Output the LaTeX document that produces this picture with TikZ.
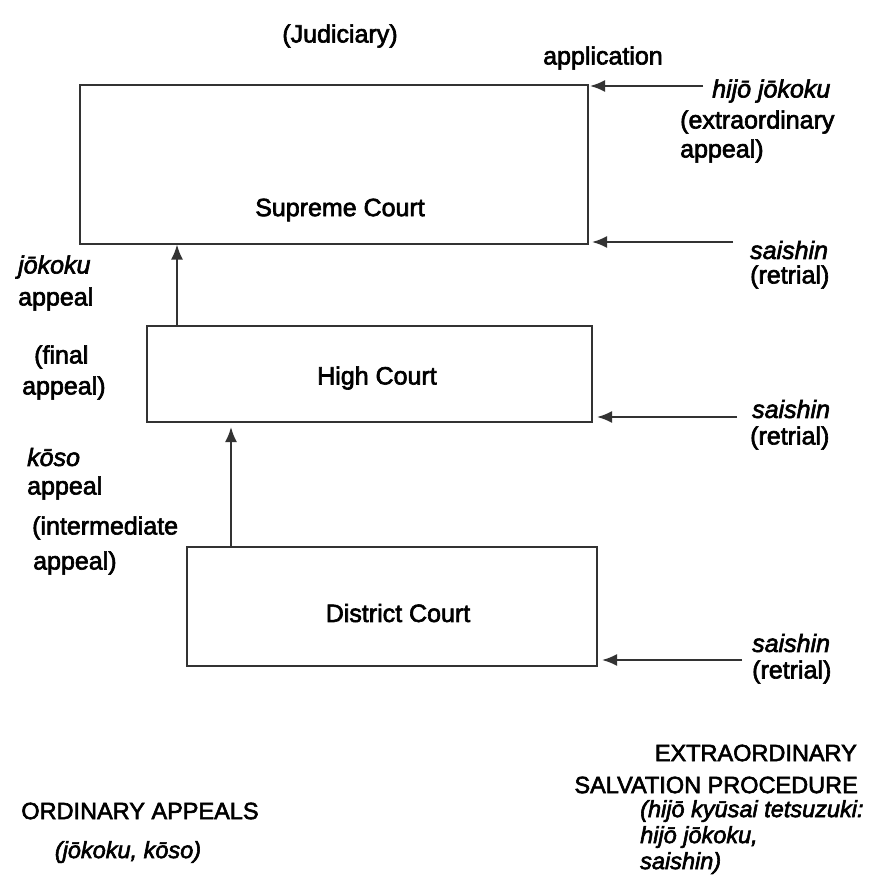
\documentclass[tikz,border=0pt]{standalone}
\usepackage{fontspec}
\setmainfont{Liberation Sans}[FakeBold=2.5,ItalicFeatures={FakeBold=2.5}]
\usetikzlibrary{arrows.meta}
\begin{document}
\begin{tikzpicture}[x=1pt,y=-1pt,
  box/.style={draw=black!80,line width=2pt,inner sep=0pt},
  lbl/.style={inner sep=0pt,font=\fontsize{25}{28}\selectfont},
  captxt/.style={inner sep=0pt,font=\fontsize{23.5}{28}\selectfont},
  arr/.style={draw=black!80,line width=2pt,-{Latex[length=15pt,width=12pt]}}]
\useasboundingbox[fill=white] (0,0) rectangle (893,888);
% boxes
\node[box,minimum width=508pt,minimum height=158pt] (sc) at (334,164.5) {};
\node[box,minimum width=445pt,minimum height=96pt] (hc) at (369.5,374) {};
\node[box,minimum width=410pt,minimum height=119pt] (dc) at (392,606.5) {};
\node[lbl] (sct) at (340,210) {Supreme Court};
\node[lbl] (hct) at (377,378) {High Court};
\node[lbl] (dct) at (398,613) {District Court};
% top labels
\node[lbl] (jud) at (340,36) {(Judiciary)};
\node[lbl,anchor=west] (app) at (543,58) {application};
\node[lbl,anchor=west] (hj) at (712,91) {\itshape hijō jōkoku};
\node[lbl,anchor=west] (ex) at (680,122) {(extraordinary};
\node[lbl,anchor=west] (ex2) at (680,151) {appeal)};
\node[lbl,anchor=west] (s1) at (750,250) {\itshape saishin};
\node[lbl,anchor=west] (r1) at (750,277) {(retrial)};
\node[lbl,anchor=west] (s2) at (752,409) {\itshape saishin};
\node[lbl,anchor=west] (r2) at (750,438) {(retrial)};
\node[lbl,anchor=west] (s3) at (752,643) {\itshape saishin};
\node[lbl,anchor=west] (r3) at (752,672) {(retrial)};
% left labels
\node[lbl,anchor=west] (jk) at (18,267) {\itshape jōkoku};
\node[lbl,anchor=west] (ja) at (18,299) {appeal};
\node[lbl,anchor=west] (jf) at (34,357) {(final};
\node[lbl,anchor=west] (jf2) at (22,388) {appeal)};
\node[lbl,anchor=west] (ko) at (27,457) {\itshape kōso};
\node[lbl,anchor=west] (ka) at (27,488) {appeal};
\node[lbl,anchor=west] (ki) at (32,528) {(intermediate};
\node[lbl,anchor=west] (ki2) at (33,563) {appeal)};
% bottom labels
\node[captxt] (oa) at (140,811) {ORDINARY APPEALS};
\node[captxt] (oa2) at (128,852) {\itshape (jōkoku, kōso)};
\node[captxt,anchor=east] (es1) at (857,753) {EXTRAORDINARY};
\node[captxt,anchor=east] (es2) at (858,785) {SALVATION PROCEDURE};
\node[captxt,anchor=west] (es3) at (640,811) {\itshape (hijō kyūsai tetsuzuki:};
\node[captxt,anchor=west] (es4) at (640,837) {\itshape hijō jōkoku,};
\node[captxt,anchor=west] (es5) at (640,863) {\itshape saishin)};
% arrows up
\draw[arr] ([xshift=31pt]hc.north west) -- ([xshift=31pt]hc.north west |- sc.south);
\draw[arr,shorten >=4pt] ([xshift=45pt]dc.north west) -- ([xshift=45pt]dc.north west |- hc.south);
% arrows from right
\coordinate (a0) at (703,86);
\coordinate (a1) at (733,242);
\coordinate (a2) at (737,417);
\coordinate (a3) at (742,660);
\draw[arr,shorten >=1pt] (a0) -- (a0 -| sc.east);
\draw[arr,shorten >=3pt] (a1) -- (a1 -| sc.east);
\draw[arr,shorten >=4pt] (a2) -- (a2 -| hc.east);
\draw[arr,shorten >=4pt] (a3) -- (a3 -| dc.east);
\end{tikzpicture}
\end{document}
